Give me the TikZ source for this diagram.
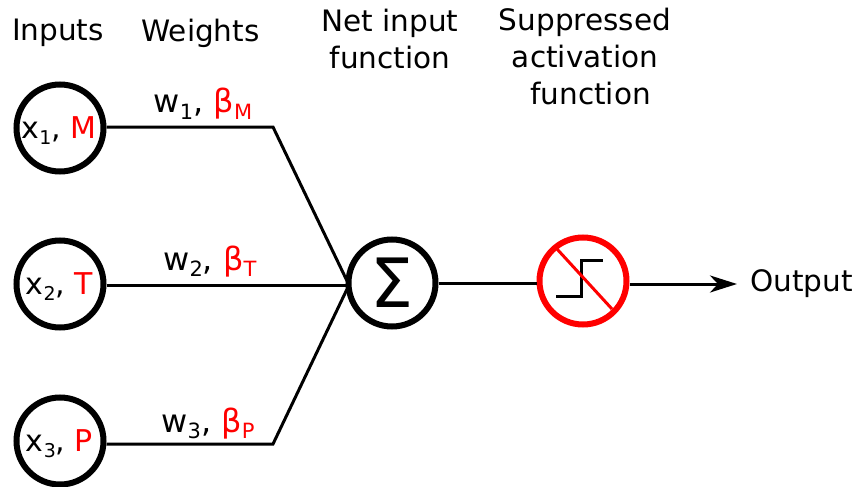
\documentclass[tikz,border=0pt]{standalone}
\usepackage{fontspec}
\setmainfont{DejaVu Sans}
\usetikzlibrary{arrows.meta}
\newcommand{\lowsub}[1]{\raisebox{-6pt}{\fontsize{19}{19}\selectfont #1}}
\newcommand{\lowsubw}[1]{\raisebox{-6pt}{\fontsize{21}{21}\selectfont #1}}
\newcommand{\redtxt}[1]{\textcolor{red}{#1}}
\tikzset{
  lbl/.style={font=\fontsize{29.5}{37}\selectfont, inner sep=0pt, align=center},
  wlbl/.style={lbl, anchor=base, font=\fontsize{32}{37}\selectfont},
  unit/.style={circle, draw=black, line width=6pt, minimum size=87pt, inner sep=0pt,
    font=\fontsize{30}{37}\selectfont, text height=21pt, text depth=0pt},
  link/.style={line width=3pt, black}
}
\begin{document}
\begin{tikzpicture}[x=1pt,y=-1pt]
\useasboundingbox (0,0) rectangle (857,487);
% Headings
\node[lbl] (hinputs) at (58,33) {Inputs};
\node[lbl] (hweights) at (200.5,33) {Weights};
\node[lbl] (hnet) at (390,39) {Net input\\function};
\node[lbl] (hsupp) at (585,57) {Suppressed\\activation\\\hspace*{11pt}function};
% Inputs
\node[unit] (x1) at (60,128) {\hspace*{-2pt}x\lowsub{1}, \redtxt{M}};
\node[unit] (x2) at (60,284) {\hspace*{-1pt}x\lowsub{2}, \redtxt{T}};
\node[unit] (x3) at (60,441) {\hspace*{-1pt}x\lowsub{3}, \redtxt{P}};
% Sum and step
\node[unit, font=\fontsize{68}{68}\selectfont, text height=49pt] (sum) at (392,283) {Σ};
\node[unit, draw=red] (act) at (583,281) {};
\node[lbl, anchor=west] (out) at (750,284) {Output};
% Bends
\coordinate (b1) at (273,127);
\coordinate (b3) at (273,444);
\coordinate (hub) at (349,285);
\coordinate (tip) at (737,284);
% Weights
\node[wlbl] (w1) at (203,113) {w\lowsubw{1}, \redtxt{β\lowsubw{M}}};
\node[wlbl] (w2) at (210,270) {w\lowsubw{2}, \redtxt{β\lowsubw{T}}};
\node[wlbl] (w3) at (208,432) {w\lowsubw{3}, \redtxt{β\lowsubw{P}}};
% Links
\draw[link] (x1.east |- b1) -- (b1) -- (hub);
\draw[link] (x2.east |- hub) -- (hub);
\draw[link] (x3.east |- b3) -- (b3) -- (hub);
\draw[link] (sum.east) -- (act.west |- sum.east);
\draw[link, -{Stealth[length=27pt,width=17pt,inset=8pt]}] (act.east |- tip) -- (tip);
% Step inside the red circle
\coordinate (s1) at (556,296);
\coordinate (s2) at (581,296);
\coordinate (s3) at (581,260);
\coordinate (s4) at (603,260);
\coordinate (c1) at (557,249);
\coordinate (c2) at (612,309);
\draw[link] (s1) -- (s2) -- (s3) -- (s4);
\draw[line width=3pt, red] (c1) -- (c2);
\end{tikzpicture}
\end{document}
